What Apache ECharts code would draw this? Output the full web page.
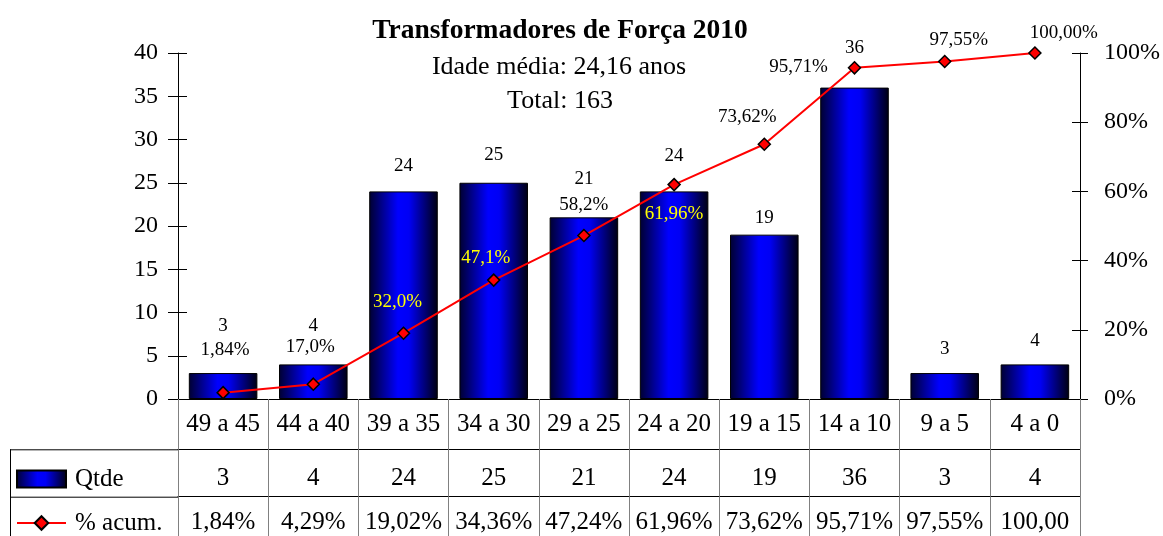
<!DOCTYPE html>
<html>
<head>
<meta charset="utf-8">
<script src="https://cdn.jsdelivr.net/npm/echarts@6/dist/echarts.min.js"></script>
<style>
html,body{margin:0;padding:0;background:#fff;}
#main{width:1163px;height:536px;}
</style>
</head>
<body>
<div id="main"></div>
<script>
// ---- data ----
const categories = ['49 a 45','44 a 40','39 a 35','34 a 30','29 a 25','24 a 20','19 a 15','14 a 10','9 a 5','4 a 0'];
const qtde = [3, 4, 24, 25, 21, 24, 19, 36, 3, 4];
const pctAcum = [1.84, 4.29, 19.02, 34.36, 47.24, 61.96, 73.62, 95.71, 97.55, 100.00];
const pctTableLabels = ['1,84%','4,29%','19,02%','34,36%','47,24%','61,96%','73,62%','95,71%','97,55%','100,00'];
const pctPointLabels = ['1,84%','17,0%','32,0%','47,1%','58,2%','61,96%','73,62%','95,71%','97,55%','100,00%'];
const titleText = 'Transformadores de Força 2010';
const subtitle1 = 'Idade média: 24,16 anos';
const subtitle2 = 'Total: 163';

// ---- label placement (style only) ----
const qtyLabelOffsets = [[0,-33],[0,-24],[0,-11],[0,-13],[0,-24],[0,-21],[0,-2],[0,-25],[0,-10],[0,-9]];
const pctLabelOffsets = [[2,-43],[-3,-37],[-6,-31],[-8,-22],[0,-31],[0,29],[-17,-27],[-56,-1],[14,-21],[29,-20]];
const pctLabelColors = ['#000','#000','#ffff00','#ffff00','#000','#ffff00','#000','#000','#000','#000'];

const FONT = 'Liberation Serif';
const chart = echarts.init(document.getElementById('main'), null, {renderer:'canvas'});

const barGradient = new echarts.graphic.LinearGradient(0,0,1,0,[
  {offset:0, color:'#000030'},
  {offset:0.42, color:'#0000ff'},
  {offset:0.58, color:'#0000f5'},
  {offset:1, color:'#000010'}
]);

const rowTop = 399, row1 = 50.3, row2 = 47.4;

const option = {
  backgroundColor:'#fff',
  animation:false,
  title:[
    {text:titleText, left:555, top:12, textAlign:'center', textStyle:{fontFamily:FONT,fontSize:27.5,fontWeight:'bold',color:'#000'}},
    {text:subtitle1, left:554, top:49, textAlign:'center', textStyle:{fontFamily:FONT,fontSize:26,fontWeight:'normal',color:'#000'}},
    {text:subtitle2, left:555, top:83, textAlign:'center', textStyle:{fontFamily:FONT,fontSize:26,fontWeight:'normal',color:'#000'}}
  ],
  legend:{
    orient:'vertical', left:16, top:466, padding:0, height:71,
    itemWidth:49, itemHeight:17, itemGap:18,
    textStyle:{fontFamily:FONT,fontSize:25,color:'#000',lineHeight:26,padding:[0,0,0,4]},
    data:[{name:'Qtde', icon:'rect'},{name:'% acum.'}]
  },
  grid:{left:178, right:81, top:53, bottom:137, containLabel:false},
  xAxis:[
    {type:'category', data:categories, position:'bottom', offset:0,
     axisLine:{show:true,onZero:false,lineStyle:{color:'#000',width:1}},
     axisTick:{show:true,length:row1,interval:0,lineStyle:{color:'#808080',width:1}},
     axisLabel:{interval:0,margin:13,fontFamily:FONT,fontSize:25,color:'#000'}},
    {type:'category', data:categories, position:'bottom', offset:row1,
     axisLine:{show:true,onZero:false,lineStyle:{color:'#000',width:1}},
     axisTick:{show:true,length:row2,interval:0,lineStyle:{color:'#808080',width:1}},
     axisLabel:{interval:0,margin:17,fontFamily:FONT,fontSize:25,color:'#000',formatter:(v,i)=>String(qtde[i])}},
    {type:'category', data:categories, position:'bottom', offset:row1+row2,
     axisLine:{show:true,onZero:false,lineStyle:{color:'#000',width:1}},
     axisTick:{show:true,length:45,interval:0,lineStyle:{color:'#808080',width:1}},
     axisLabel:{interval:0,margin:13,fontFamily:FONT,fontSize:25,color:'#000',formatter:(v,i)=>pctTableLabels[i]}}
  ],
  yAxis:[
    {type:'value', position:'left', min:0, max:40, interval:5,
     axisLine:{show:true,lineStyle:{color:'#000'}},
     axisTick:{show:true,length:10,lineStyle:{color:'#000'}},
     splitLine:{show:false},
     axisLabel:{margin:20,fontFamily:FONT,fontSize:24,color:'#000'}},
    {type:'value', position:'right', min:0, max:100, interval:20,
     axisLine:{show:true,lineStyle:{color:'#000'}},
     axisTick:{show:true,length:8,lineStyle:{color:'#000'}},
     splitLine:{show:false},
     axisLabel:{margin:24,fontFamily:FONT,fontSize:24,color:'#000',formatter:v=>v+'%'}},
    {type:'value', position:'left', min:0, max:40, interval:5,
     axisLine:{show:false}, axisLabel:{show:false}, splitLine:{show:false},
     axisTick:{show:true,inside:true,length:9,lineStyle:{color:'#000'}}},
    {type:'value', position:'right', min:0, max:100, interval:20,
     axisLine:{show:false}, axisLabel:{show:false}, splitLine:{show:false},
     axisTick:{show:true,inside:true,length:8,lineStyle:{color:'#000'}}}
  ],
  series:[
    {name:'Qtde', type:'bar', xAxisIndex:0, yAxisIndex:0, barWidth:'76%',
     itemStyle:{color:barGradient, borderColor:'#000', borderWidth:1},
     label:{show:true, position:'top', fontFamily:FONT, fontSize:19, color:'#000'},
     data:qtde.map((v,i)=>({value:v, label:{offset:qtyLabelOffsets[i]}})),
     z:2},
    {name:'% acum.', type:'line', xAxisIndex:0, yAxisIndex:1,
     symbol:'diamond', symbolSize:12,
     lineStyle:{color:'#ff0000', width:2},
     itemStyle:{color:'#ff0000', borderColor:'#000', borderWidth:1.5},
     label:{show:true, position:'inside', fontFamily:FONT, fontSize:19,
            formatter:p=>pctPointLabels[p.dataIndex]},
     data:pctAcum.map((v,i)=>({value:v, label:{offset:pctLabelOffsets[i], color:pctLabelColors[i]}})),
     z:5}
  ],
  graphic:[
    {type:'line', shape:{x1:10, y1:rowTop+row1+0.5, x2:178, y2:rowTop+row1+0.5}, style:{stroke:'#000', lineWidth:1}},
    {type:'line', shape:{x1:10, y1:rowTop+row1+row2+0.5, x2:178, y2:rowTop+row1+row2+0.5}, style:{stroke:'#000', lineWidth:1}},
    {type:'line', shape:{x1:10.5, y1:rowTop+row1, x2:10.5, y2:536}, style:{stroke:'#000', lineWidth:1}}
  ]
};
chart.setOption(option);
</script>
</body>
</html>
